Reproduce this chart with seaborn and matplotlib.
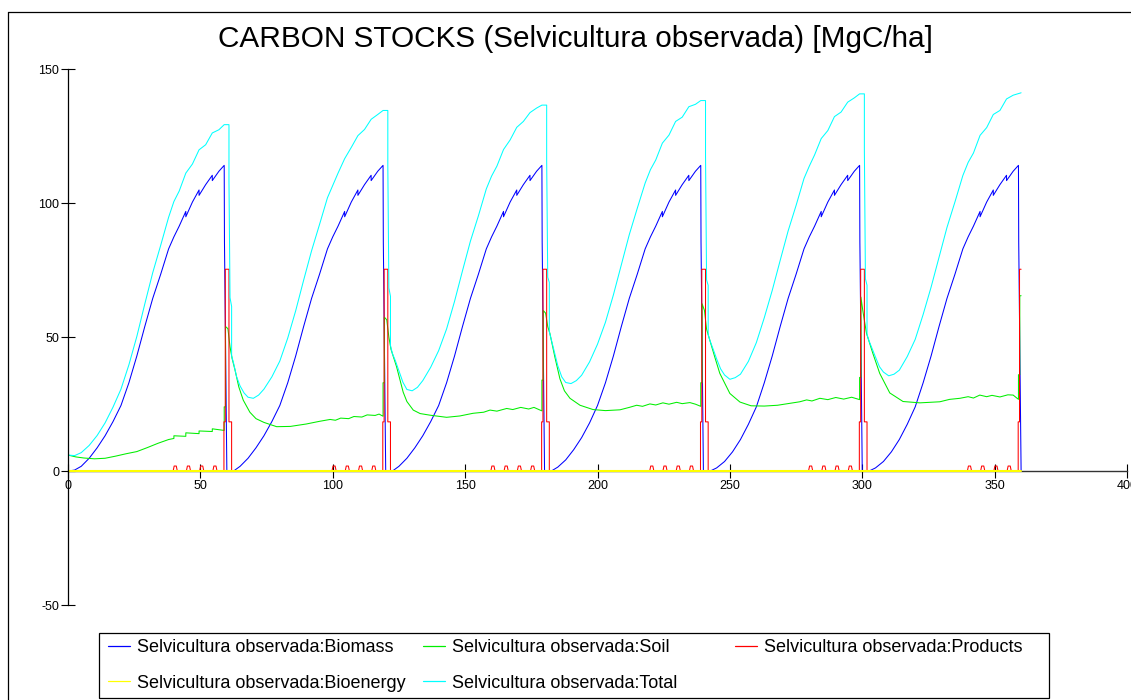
import matplotlib
matplotlib.use("Agg")
import matplotlib.pyplot as plt
from matplotlib.lines import Line2D
from matplotlib.patches import Rectangle
import seaborn as sns

# ---------------------------------------------------------------------------
# Carbon pools [MgC/ha] over a 360-year simulation (six 60-year rotations)
# ---------------------------------------------------------------------------
BIOMASS_YEARS = [
    0, 2.5, 5, 8, 11, 14, 17, 20, 23, 26, 29, 32, 35, 38, 40, 42, 44.5, 44.5, 47, 49.5, 49.5,
    52, 54.5, 54.5, 57, 59, 59.1, 59.4, 59.7, 60,
    62.5, 65, 68, 71, 74, 77, 80, 83, 86, 89, 92, 95, 98, 100, 102, 104.5, 104.5, 107, 109.5, 109.5,
    112, 114.5, 114.5, 117, 119, 119.1, 119.4, 119.7, 120,
    122.5, 125, 128, 131, 134, 137, 140, 143, 146, 149, 152, 155, 158, 160, 162, 164.5, 164.5, 167, 169.5, 169.5,
    172, 174.5, 174.5, 177, 179, 179.1, 179.4, 179.7, 180,
    182.5, 185, 188, 191, 194, 197, 200, 203, 206, 209, 212, 215, 218, 220, 222, 224.5, 224.5, 227, 229.5, 229.5,
    232, 234.5, 234.5, 237, 239, 239.1, 239.4, 239.7, 240,
    242.5, 245, 248, 251, 254, 257, 260, 263, 266, 269, 272, 275, 278, 280, 282, 284.5, 284.5, 287, 289.5, 289.5,
    292, 294.5, 294.5, 297, 299, 299.1, 299.4, 299.7, 300,
    302.5, 305, 308, 311, 314, 317, 320, 323, 326, 329, 332, 335, 338, 340, 342, 344.5, 344.5, 347, 349.5, 349.5,
    352, 354.5, 354.5, 357, 359, 359.1, 359.4, 359.7, 360,
]
BIOMASS = [
    0, 0.4, 1.8, 4.8, 8.7, 13.2, 18.5, 24.5, 33, 43, 54, 64.5, 73.5, 83, 87.5, 91.5, 97, 95, 100.5, 105, 103,
    107, 110.5, 108.5, 112, 114.2, 85.6, 56, 28, 0,
    0, 1.8, 4.8, 8.7, 13.2, 18.5, 24.5, 33, 43, 54, 64.5, 73.5, 83, 87.5, 91.5, 97, 95, 100.5, 105, 103,
    107, 110.5, 108.5, 112, 114.2, 85.6, 56, 28, 0,
    0, 1.8, 4.8, 8.7, 13.2, 18.5, 24.5, 33, 43, 54, 64.5, 73.5, 83, 87.5, 91.5, 97, 95, 100.5, 105, 103,
    107, 110.5, 108.5, 112, 114.2, 85.6, 56, 28, 0,
    0, 1.5, 4.2, 8.0, 12.5, 18.0, 24.5, 33, 43, 54, 64.5, 73.5, 83, 87.5, 91.5, 97, 95, 100.5, 105, 103,
    107, 110.5, 108.5, 112, 114.2, 85.6, 56, 28, 0,
    0, 1.2, 3.6, 7.2, 11.8, 17.5, 24, 33, 43, 54, 64.5, 73.5, 83, 87.5, 91.5, 97, 95, 100.5, 105, 103,
    107, 110.5, 108.5, 112, 114.2, 85.6, 56, 28, 0,
    0, 1.2, 3.6, 7.2, 11.8, 17.5, 24, 33, 43, 54, 64.5, 73.5, 83, 87.5, 91.5, 97, 95, 100.5, 105, 103,
    107, 110.5, 108.5, 112, 114.2, 85.6, 56, 28, 0,
]

SOIL_YEARS = [
    0, 3, 6, 10, 14, 18, 22, 26, 30, 34, 38, 40, 40, 44.5, 44.5, 49.5, 49.5, 54.5, 54.5, 59,
    59, 59.5, 59.5, 60.4, 61.2, 62, 63.1, 64.5, 66.2, 68.7, 71, 74, 78.8, 84, 90, 95, 99, 101, 103, 106,
    108, 111, 113, 116, 117.5, 119,
    119, 119.5, 119.5, 120.4, 121.2, 122, 124.1, 126.6, 128, 130.4, 133, 136.7, 143, 148, 153, 157, 159.4,
    162, 165.7, 168, 171, 174, 176, 179,
    179, 179.5, 179.5, 180.4, 181.2, 182, 183.9, 185.8, 187.5, 189.6, 193.4, 198.3, 203, 208.5, 212, 214.8,
    217, 219.8, 222, 224.7, 227, 229.9, 232, 234.9, 237, 239,
    239, 239.5, 239.5, 240.4, 241.2, 242.4, 244.3, 246.2, 250, 253.8, 258, 263, 268, 272, 276.4, 279, 281,
    284, 287, 290, 293, 296, 299,
    299, 299.5, 299.5, 300.2, 301.6, 304, 306.6, 310.4, 315.4, 321.8, 329.3, 333, 336.9, 340, 342, 344.4,
    347, 349, 352, 355, 357, 359,
    359, 359.5, 359.5, 360,
]
SOIL = [
    6.0, 5.3, 4.9, 4.6, 4.8, 5.6, 6.5, 7.3, 8.8, 10.4, 11.8, 12.2, 13.2, 13.0, 14.3, 14.0, 15.0, 14.8, 15.8, 15.2,
    24, 24, 54, 53.2, 46.4, 42, 37.7, 31.5, 26.5, 22, 19.6, 18.2, 16.6, 16.7, 17.6, 18.6, 19.3, 19.0, 19.8, 19.6,
    20.4, 20.2, 21.0, 20.8, 21.3, 20.5,
    33, 33, 57.5, 56.5, 50, 45.5, 39, 29.5, 26, 22.8, 21.5, 20.9, 20.1, 20.6, 21.6, 22.0, 22.8,
    22.4, 23.4, 23.0, 23.8, 23.2, 23.8, 22.5,
    34, 34, 60, 59, 54, 51.5, 42.6, 34.5, 30, 27.2, 24.6, 23.0, 22.6, 22.9, 23.8, 24.6,
    24.2, 25.1, 24.7, 25.5, 25.0, 25.7, 25.2, 25.6, 25.0, 24.2,
    33, 33, 62.5, 60, 53, 49, 42.6, 36.5, 29.0, 25.8, 24.4, 24.3, 24.6, 25.2, 25.9, 26.6, 26.2,
    27.2, 26.7, 27.5, 26.9, 27.6, 26.7,
    35, 35, 65, 60, 51.5, 44, 36.5, 29.2, 26.0, 25.5, 25.9, 26.8, 27.2, 27.8, 27.3, 28.4,
    27.8, 28.3, 27.7, 28.5, 28.4, 26.8,
    36, 36, 65.5, 65.5,
]

PRODUCTS_YEARS = [
    0,
    39.7, 40.1, 40.9, 41.3, 44.7, 45.1, 45.9, 46.3, 49.7, 50.1, 50.9, 51.3, 54.7, 55.1, 55.9, 56.3,
    58.9, 58.9, 59.4, 59.4, 60.8, 60.8, 61.8, 61.8,
    99.7, 100.1, 100.9, 101.3, 104.7, 105.1, 105.9, 106.3, 109.7, 110.1, 110.9, 111.3, 114.7, 115.1, 115.9, 116.3,
    118.9, 118.9, 119.4, 119.4, 120.8, 120.8, 121.8, 121.8,
    159.7, 160.1, 160.9, 161.3, 164.7, 165.1, 165.9, 166.3, 169.7, 170.1, 170.9, 171.3, 174.7, 175.1, 175.9, 176.3,
    178.9, 178.9, 179.4, 179.4, 180.8, 180.8, 181.8, 181.8,
    219.7, 220.1, 220.9, 221.3, 224.7, 225.1, 225.9, 226.3, 229.7, 230.1, 230.9, 231.3, 234.7, 235.1, 235.9, 236.3,
    238.9, 238.9, 239.4, 239.4, 240.8, 240.8, 241.8, 241.8,
    279.7, 280.1, 280.9, 281.3, 284.7, 285.1, 285.9, 286.3, 289.7, 290.1, 290.9, 291.3, 294.7, 295.1, 295.9, 296.3,
    298.9, 298.9, 299.4, 299.4, 300.8, 300.8, 301.8, 301.8,
    339.7, 340.1, 340.9, 341.3, 344.7, 345.1, 345.9, 346.3, 349.7, 350.1, 350.9, 351.3, 354.7, 355.1, 355.9, 356.3,
    358.9, 358.9, 359.4, 359.4, 360,
]
PRODUCTS = [
    0,
    0, 1.9, 1.9, 0, 0, 1.9, 1.9, 0, 0, 1.9, 1.9, 0, 0, 1.9, 1.9, 0,
    0, 18.4, 18.4, 75.4, 75.4, 18.4, 18.4, 0,
    0, 1.9, 1.9, 0, 0, 1.9, 1.9, 0, 0, 1.9, 1.9, 0, 0, 1.9, 1.9, 0,
    0, 18.4, 18.4, 75.4, 75.4, 18.4, 18.4, 0,
    0, 1.9, 1.9, 0, 0, 1.9, 1.9, 0, 0, 1.9, 1.9, 0, 0, 1.9, 1.9, 0,
    0, 18.4, 18.4, 75.4, 75.4, 18.4, 18.4, 0,
    0, 1.9, 1.9, 0, 0, 1.9, 1.9, 0, 0, 1.9, 1.9, 0, 0, 1.9, 1.9, 0,
    0, 18.4, 18.4, 75.4, 75.4, 18.4, 18.4, 0,
    0, 1.9, 1.9, 0, 0, 1.9, 1.9, 0, 0, 1.9, 1.9, 0, 0, 1.9, 1.9, 0,
    0, 18.4, 18.4, 75.4, 75.4, 18.4, 18.4, 0,
    0, 1.9, 1.9, 0, 0, 1.9, 1.9, 0, 0, 1.9, 1.9, 0, 0, 1.9, 1.9, 0,
    0, 18.4, 18.4, 75.4, 75.4,
]

BIOENERGY_YEARS = [0, 360]
BIOENERGY = [0, 0]

TOTAL_YEARS = [
    0, 2.5, 5, 8, 11, 14, 17, 20, 23, 26, 29, 32, 35, 38, 40, 42, 44.5, 47, 49.5, 52, 54.5, 57, 59,
    60.8, 60.8, 61.2, 61.8, 61.8, 62.5, 63.7, 65, 66.5, 68, 70, 72, 74, 77, 80, 83, 86, 89, 92, 95, 98,
    100, 102, 104.5, 107, 109.5, 112, 114.5, 117, 119,
    120.8, 120.8, 121.2, 121.8, 121.8, 122.5, 123.7, 125, 126.5, 128, 130, 132, 134, 137, 140, 143, 146,
    149, 152, 155, 158, 160, 162, 164.5, 167, 169.5, 172, 174.5, 177, 179,
    180.8, 180.8, 181.2, 181.8, 181.8, 182.5, 183.7, 185, 186.5, 188, 190, 192, 194, 197, 200, 203, 206,
    209, 212, 215, 218, 220, 222, 224.5, 227, 229.5, 232, 234.5, 237, 239,
    240.8, 240.8, 241.2, 241.8, 241.8, 242.5, 243.7, 245, 246.5, 248, 250, 252, 254, 257, 260, 263, 266,
    269, 272, 275, 278, 280, 282, 284.5, 287, 289.5, 292, 294.5, 297, 299,
    300.8, 300.8, 301.2, 301.8, 301.8, 302.5, 303.7, 305, 306.5, 308, 310, 312, 314, 317, 320, 323, 326,
    329, 332, 335, 338, 340, 342, 344.5, 347, 349.5, 352, 354.5, 357, 359, 360,
]
TOTAL = [
    6.0, 5.8, 6.9, 9.6, 13.3, 18.0, 23.9, 30.6, 39.7, 50.3, 62.4, 74.1, 84.3, 94.8, 100.7, 104.6, 111.3,
    114.7, 120.0, 121.9, 126.3, 127.5, 129.4,
    129.4, 108.5, 64.8, 61.5, 43.0, 40.5, 35.2, 31.8, 29.2, 27.6, 27.2, 28.4, 30.6, 35.2, 41.1, 49.7, 59.9,
    71.3, 82.3, 92.1, 102.1, 106.7, 111.3, 116.7, 120.9, 125.3, 127.6, 131.4, 133.2, 134.7,
    134.7, 114.0, 68.4, 65.3, 46.9, 44.0, 41.1, 37.4, 33.2, 30.5, 30.0, 31.3, 33.8, 38.8, 45.0, 53.1, 63.4,
    74.8, 85.9, 95.3, 105.4, 110.2, 113.9, 120.1, 123.7, 128.4, 130.6, 133.9, 135.6, 136.7,
    136.7, 116.0, 72.4, 70.5, 52.1, 49.3, 44.4, 39.4, 35.2, 33.1, 32.7, 33.8, 35.8, 40.8, 47.4, 55.6, 65.8,
    77.0, 88.3, 98.1, 107.6, 112.6, 116.2, 122.5, 125.5, 130.6, 132.2, 136.1, 137.0, 138.4,
    138.4, 118.0, 71.4, 69.4, 51.0, 48.7, 45.5, 41.9, 38.2, 35.9, 34.3, 34.9, 36.2, 41.0, 48.0, 57.3, 67.5,
    78.7, 89.7, 99.2, 109.3, 113.9, 118.1, 124.2, 127.2, 132.4, 134.1, 137.8, 139.4, 140.9,
    140.9, 120.0, 71.8, 69.4, 51.0, 48.8, 45.8, 42.6, 39.0, 37.0, 35.6, 36.2, 37.7, 42.8, 49.2, 58.5, 68.7,
    79.9, 91.0, 100.5, 110.4, 115.3, 118.8, 125.4, 128.3, 133.2, 134.7, 139.0, 140.4, 141.0, 141.3,
]

X_TICKS = [0, 50, 100, 150, 200, 250, 300, 350, 400]
Y_TICKS = [-50, 0, 50, 100, 150]
TITLE = "CARBON STOCKS (Selvicultura observada) [MgC/ha]"

SERIES = [
    ("Selvicultura observada:Biomass", BIOMASS_YEARS, BIOMASS, "#0000ff", 0.75),
    ("Selvicultura observada:Soil", SOIL_YEARS, SOIL, "#00ee00", 0.75),
    ("Selvicultura observada:Products", PRODUCTS_YEARS, PRODUCTS, "#ff0000", 0.75),
    ("Selvicultura observada:Bioenergy", BIOENERGY_YEARS, BIOENERGY, "#ffff00", 1.5),
    ("Selvicultura observada:Total", TOTAL_YEARS, TOTAL, "#00ffff", 0.75),
]

# ---------------------------------------------------------------------------
sns.set_theme(style="white")
plt.rcParams["font.family"] = ["Liberation Sans", "DejaVu Sans"]
plt.rcParams["axes.unicode_minus"] = False

W, H = 1131, 700
fig = plt.figure(figsize=(W / 100, H / 100), dpi=100)
fig.patch.set_facecolor("white")


def fx(px):
    return px / W


def fy(py):
    return 1 - py / H


ax = fig.add_axes([fx(68), fy(605), fx(1127) - fx(68), (605 - 69.5) / H])
ax.patch.set_visible(False)

handles = {}
for label, xs, ys, color, lw in SERIES:
    sns.lineplot(x=xs, y=ys, estimator=None, sort=False, color=color,
                 linewidth=lw, ax=ax, legend=False)
    line = ax.lines[-1]
    line.set_label(label)
    line.set_zorder(2)
    handles[label] = line

ax.set_xlim(0, 400)
ax.set_ylim(-50, 150)
ax.set_xticks(X_TICKS)
ax.set_yticks(Y_TICKS)
ax.set_xlabel("")
ax.set_ylabel("")
ax.grid(False)

for side in ("top", "right"):
    ax.spines[side].set_visible(False)
ax.spines["bottom"].set_position(("data", 0))
ax.spines["bottom"].set_color("#333333")
ax.spines["bottom"].set_linewidth(1.0)
ax.spines["bottom"].set_zorder(1)
ax.spines["left"].set_color("black")
ax.spines["left"].set_linewidth(0.9)
ax.tick_params(axis="both", bottom=True, left=True, direction="inout", length=10.5,
               width=0.8, colors="black", labelsize=9, pad=1)

fig.text(fx(575), fy(47), TITLE, ha="center", va="baseline", fontsize=21.4, color="black")

# outer frame (left and top edges)
fig.add_artist(Line2D([fx(8), fx(8)], [fy(12), 0], transform=fig.transFigure,
                      color="black", lw=0.9))
fig.add_artist(Line2D([fx(8), 1], [fy(12), fy(12)], transform=fig.transFigure,
                      color="black", lw=0.9))

# legend box with one entry per slot
fig.add_artist(Rectangle((fx(99), fy(698)), fx(1049) - fx(99), (698 - 633) / H,
                         transform=fig.transFigure, fill=False, edgecolor="black", lw=0.9))
slots = [
    ("Selvicultura observada:Biomass", 108, 648),
    ("Selvicultura observada:Soil", 422.5, 648),
    ("Selvicultura observada:Products", 735, 648),
    ("Selvicultura observada:Bioenergy", 108, 683),
    ("Selvicultura observada:Total", 422.5, 683),
]
fs = 13
for label, px, py in slots:
    leg = fig.legend(handles=[handles[label]], labels=[label], loc="center left",
                     bbox_to_anchor=(fx(px), fy(py)), frameon=False, fontsize=fs,
                     handlelength=22 / (fs * 100 / 72), handletextpad=7 / (fs * 100 / 72),
                     borderpad=0, borderaxespad=0, labelcolor="black")
    for h in leg.legend_handles:
        h.set_linewidth(0.9)

fig.savefig("out.png", dpi=100)
